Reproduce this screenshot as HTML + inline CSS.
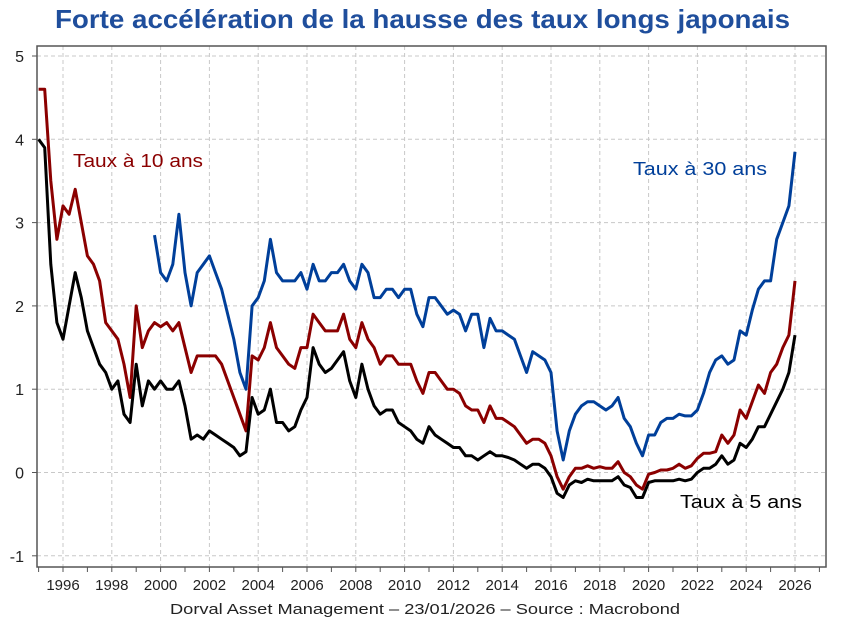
<!DOCTYPE html>
<html><head><meta charset="utf-8"><style>
body{margin:0;background:#fff;}
svg text{font-family:"Liberation Sans",sans-serif;}
</style></head><body>
<svg id="c" width="844" height="627">
<text x="55" y="28" textLength="735" lengthAdjust="spacingAndGlyphs" font-size="26" font-weight="bold" fill="#1f4e9c">Forte accélération de la hausse des taux longs japonais</text>
<g id="grid"></g><g id="series"></g><g id="axes"></g>
<text x="73" y="167" textLength="130" lengthAdjust="spacingAndGlyphs" font-size="18" fill="#8b0000">Taux à 10 ans</text>
<text x="633" y="175" textLength="134" lengthAdjust="spacingAndGlyphs" font-size="18" fill="#003f9a">Taux à 30 ans</text>
<text x="680" y="508" textLength="122" lengthAdjust="spacingAndGlyphs" font-size="18" fill="#000">Taux à 5 ans</text>
<text x="170" y="614" textLength="510" lengthAdjust="spacingAndGlyphs" font-size="15" fill="#222">Dorval Asset Management – 23/01/2026  –   Source : Macrobond</text>
</svg>
<script>
const yTicks=[-1,0,1,2,3,4,5];
const xTickLabels=[1996,1998,2000,2002,2004,2006,2008,2010,2012,2014,2016,2018,2020,2022,2024,2026];
const start10=1995.0;
const y10=[4.6,4.6,3.5,2.8,3.2,3.1,3.4,3.0,2.6,2.5,2.3,1.8,1.7,1.6,1.3,0.9,2.0,1.5,1.7,1.8,1.75,1.8,1.7,1.8,1.5,1.2,1.4,1.4,1.4,1.4,1.3,1.1,0.9,0.7,0.5,1.4,1.35,1.5,1.8,1.5,1.4,1.3,1.25,1.5,1.5,1.9,1.8,1.7,1.7,1.7,1.9,1.6,1.5,1.8,1.6,1.5,1.3,1.4,1.4,1.3,1.3,1.3,1.1,0.95,1.2,1.2,1.1,1.0,1.0,0.95,0.8,0.75,0.75,0.6,0.8,0.65,0.65,0.6,0.55,0.45,0.35,0.4,0.4,0.35,0.2,-0.05,-0.2,-0.05,0.05,0.05,0.08,0.05,0.07,0.05,0.05,0.13,0.0,-0.05,-0.15,-0.2,-0.02,0.0,0.03,0.03,0.05,0.1,0.05,0.08,0.17,0.23,0.23,0.25,0.45,0.35,0.45,0.75,0.65,0.85,1.05,0.95,1.2,1.3,1.5,1.65,2.3];
const start5=1995.0;
const y5=[4.0,3.9,2.5,1.8,1.6,2.0,2.4,2.1,1.7,1.5,1.3,1.2,1.0,1.1,0.7,0.6,1.3,0.8,1.1,1.0,1.1,1.0,1.0,1.1,0.8,0.4,0.45,0.4,0.5,0.45,0.4,0.35,0.3,0.2,0.25,0.9,0.7,0.75,1.0,0.6,0.6,0.5,0.55,0.75,0.9,1.5,1.3,1.2,1.25,1.35,1.45,1.1,0.9,1.3,1.0,0.8,0.7,0.75,0.75,0.6,0.55,0.5,0.4,0.35,0.55,0.45,0.4,0.35,0.3,0.3,0.2,0.2,0.15,0.2,0.25,0.2,0.2,0.18,0.15,0.1,0.05,0.1,0.1,0.05,-0.05,-0.25,-0.3,-0.15,-0.1,-0.12,-0.08,-0.1,-0.1,-0.1,-0.1,-0.05,-0.15,-0.18,-0.3,-0.3,-0.12,-0.1,-0.1,-0.1,-0.1,-0.08,-0.1,-0.08,0.0,0.05,0.05,0.1,0.2,0.1,0.15,0.35,0.3,0.4,0.55,0.55,0.7,0.85,1.0,1.2,1.65];
const start30=1999.75;
const y30=[2.85,2.4,2.3,2.5,3.1,2.4,2.0,2.4,2.5,2.6,2.4,2.2,1.9,1.6,1.2,1.0,2.0,2.1,2.3,2.8,2.4,2.3,2.3,2.3,2.4,2.2,2.5,2.3,2.3,2.4,2.4,2.5,2.3,2.2,2.5,2.4,2.1,2.1,2.2,2.2,2.1,2.2,2.2,1.9,1.75,2.1,2.1,2.0,1.9,1.95,1.9,1.7,1.9,1.9,1.5,1.85,1.7,1.7,1.65,1.6,1.4,1.2,1.45,1.4,1.35,1.2,0.5,0.15,0.5,0.7,0.8,0.85,0.85,0.8,0.75,0.8,0.9,0.65,0.55,0.35,0.2,0.45,0.45,0.6,0.65,0.65,0.7,0.68,0.68,0.75,0.95,1.2,1.35,1.4,1.3,1.35,1.7,1.65,1.95,2.2,2.3,2.3,2.8,3.0,3.2,3.85];

const L=37,R=826,T=46,B=567;
const X=yr=>63+(yr-1996)*24.4;
const Y=v=>472.5-v*83.3;
const NS="http://www.w3.org/2000/svg";
function mk(tag,attrs,parent){const e=document.createElementNS(NS,tag);for(const k in attrs)e.setAttribute(k,attrs[k]);parent.appendChild(e);return e;}
const grid=document.getElementById('grid'),axes=document.getElementById('axes'),series=document.getElementById('series');
yTicks.forEach(v=>{
 const g=mk('line',{x1:L,x2:R,y1:Y(v),y2:Y(v),stroke:'#c8c8c8','stroke-dasharray':'4 3'},grid);
 
 
 const t=mk('text',{x:L-13,y:Y(v)+6,'text-anchor':'end','font-size':16,fill:'#222'},axes);
 t.textContent=v;
 
 
 mk('line',{x1:L-5,x2:L,y1:Y(v),y2:Y(v),stroke:'#555'},axes);
});
for(let yr=1995;yr<=2027;yr++){ mk('line',{x1:X(yr),x2:X(yr),y1:B,y2:B+5,stroke:'#555'},axes); }
xTickLabels.forEach(yr=>{
 const g=mk('line',{x1:X(yr),x2:X(yr),y1:T,y2:B,stroke:'#c8c8c8','stroke-dasharray':'4 3'},grid);
 
 
 const t=mk('text',{x:X(yr),y:590,'text-anchor':'middle','font-size':15,fill:'#222'},axes);
 t.textContent=yr;
 
 
});
const frame=mk('rect',{x:L,y:T,width:R-L,height:B-T,fill:'none',stroke:'#555','stroke-width':1.5},axes);


function line(start,vals,color,name){
 const d=vals.map((v,i)=>(i?'L':'M')+X(start+i*0.25).toFixed(1)+','+Y(v).toFixed(1)).join('');
 const p=mk('path',{d:d,fill:'none',stroke:color,'stroke-width':3,'stroke-linejoin':'round'},series);
 
 
}
line(start30,y30,'#003f9a','series-30y');
line(start10,y10,'#8b0000','series-10y');
line(start5,y5,'#000','series-5y');
</script>
</body></html>
